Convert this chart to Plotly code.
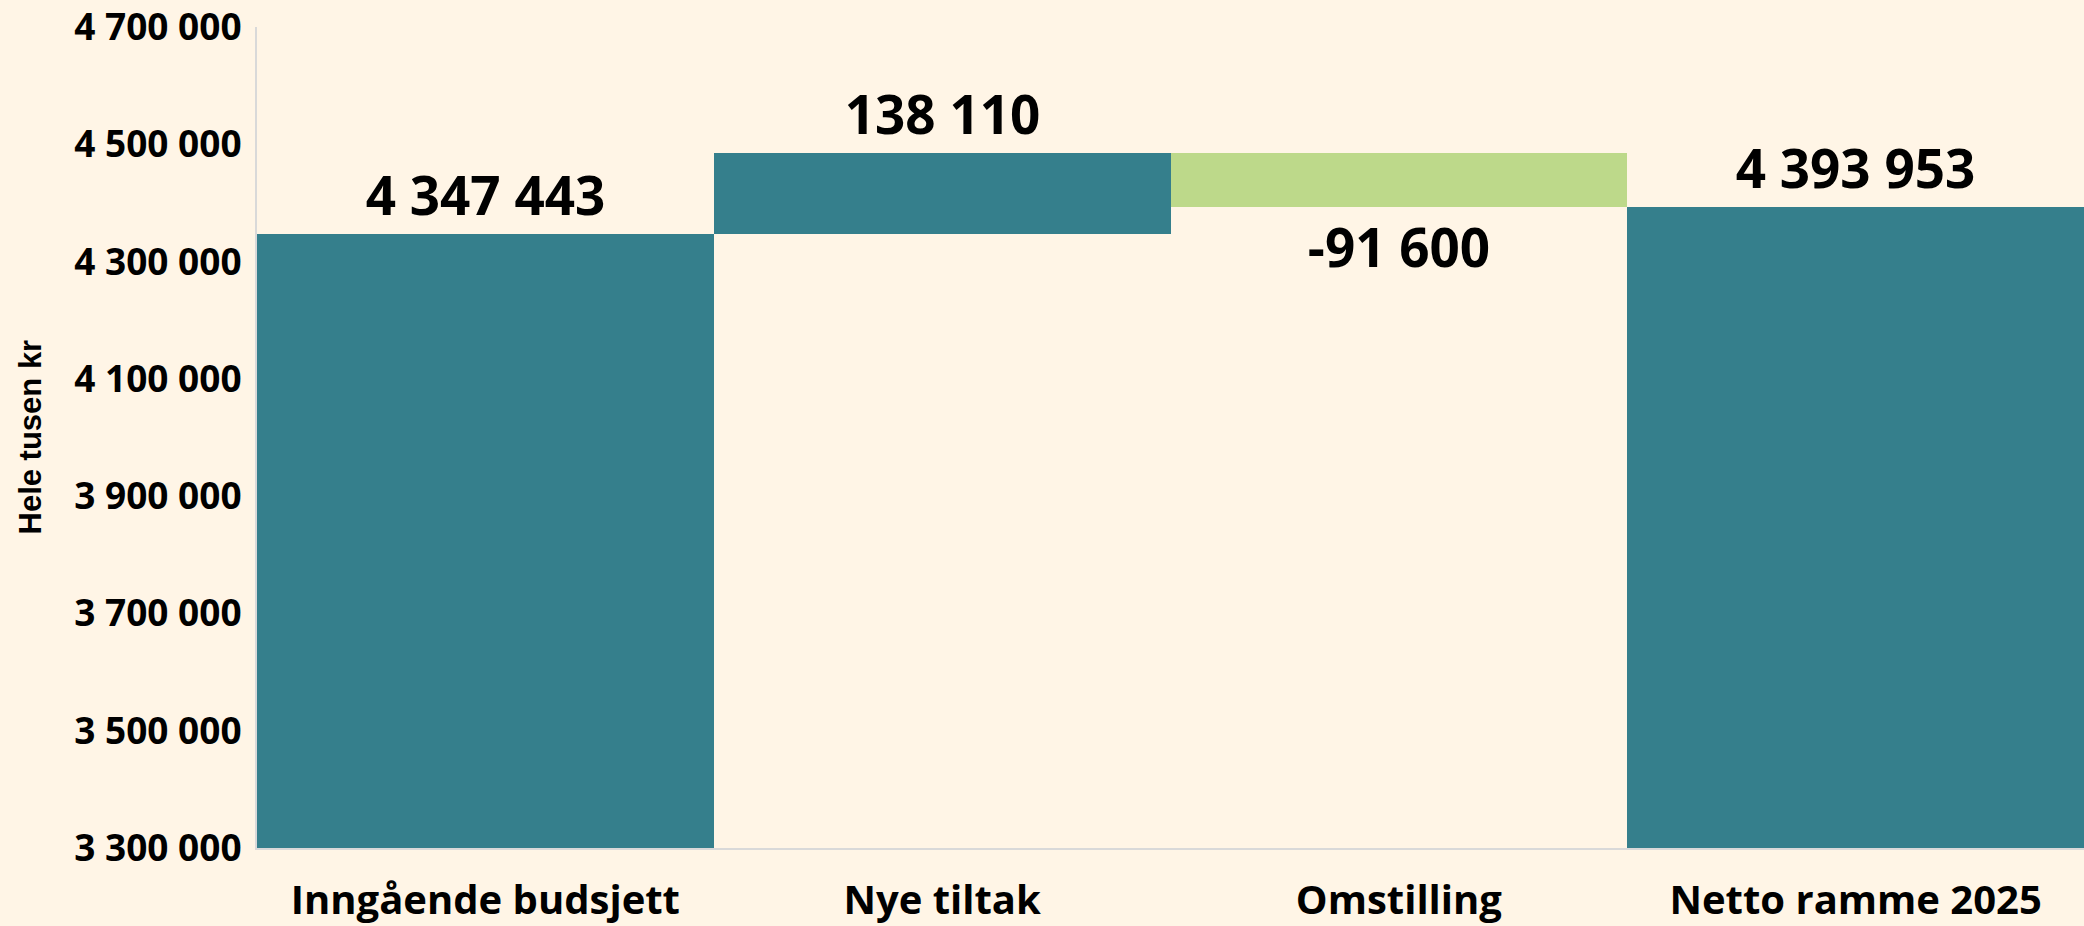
import plotly.graph_objects as go

categories = ["Inngående budsjett", "Nye tiltak", "Omstilling", "Netto ramme 2025"]
measures = ["absolute", "relative", "relative", "total"]
values = [4347443, 138110, -91600, 0]
labels_values = [4347443, 138110, -91600, 4393953]
y_ticks = [3300000, 3500000, 3700000, 3900000, 4100000, 4300000, 4500000, 4700000]
y_title = "Hele tusen kr"

TEAL = "#357f8c"
GREEN = "#bdd98a"
BG = "#fff5e6"
FONT = "Open Sans"

def fmt(v):
    return f"{v:,}".replace(",", " ")

fig = go.Figure(go.Waterfall(
    x=categories,
    y=values,
    measure=measures,
    text=[fmt(v) for v in labels_values],
    textposition="outside",
    textfont=dict(family=FONT, size=53, color="#000000", weight="bold"),
    constraintext="none",
    cliponaxis=False,
    increasing=dict(marker=dict(color=TEAL)),
    decreasing=dict(marker=dict(color=GREEN)),
    totals=dict(marker=dict(color=TEAL)),
    connector=dict(visible=False),
    hoverinfo="skip",
))

fig.update_layout(
    width=2084, height=926,
    paper_bgcolor=BG, plot_bgcolor=BG,
    margin=dict(l=257, r=0, t=20, b=74),
    waterfallgap=0,
    showlegend=False,
    font=dict(family=FONT, color="#000000"),
    annotations=[dict(
        text=f"<b>{y_title}</b>", textangle=-90,
        xref="paper", yref="paper",
        x=(30 - 257) / 1827, y=0.5,
        xanchor="center", yanchor="middle",
        showarrow=False,
        font=dict(family="Arial", size=31, color="#000000"),
    )],
)
fig.update_yaxes(
    range=[3300000, 4700500],
    tickvals=y_ticks,
    ticktext=[fmt(v) for v in y_ticks],
    tickfont=dict(family=FONT, size=37, color="#000000", weight="bold"),
    ticklabeloverflow="allow",
    showgrid=False, zeroline=False,
    showline=True, linecolor="#d9d9d9", linewidth=2,
    ticks="outside", ticklen=6, tickcolor="rgba(0,0,0,0)",
)
fig.update_xaxes(
    tickfont=dict(family=FONT, size=40, color="#000000", weight="bold"),
    showgrid=False, zeroline=False,
    showline=True, linecolor="#d9d9d9", linewidth=2,
    ticks="outside", ticklen=16, tickcolor="rgba(0,0,0,0)",
)

fig.write_html(
    "out.html",
    config=dict(displayModeBar=False),
    post_script="document.body.style.margin='0';document.body.style.background='#fff5e6';",
)
